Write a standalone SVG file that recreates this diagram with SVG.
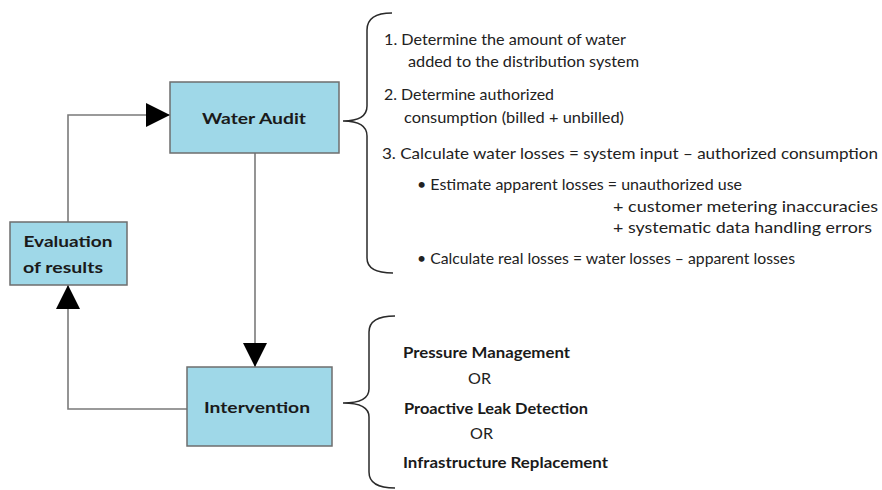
<svg xmlns="http://www.w3.org/2000/svg" width="882" height="490" viewBox="0 0 882 490">
  <style>
    .box { fill: #9fd8e8; stroke: #6e6e6e; stroke-width: 1.5; }
    .title { font-family: Lato, "Open Sans", sans-serif; font-weight: bold; font-size: 16px; fill: #1a1a1a; text-anchor: middle; }
    .conn { fill: none; stroke: #7a7a7a; stroke-width: 1.6; }
    .brace { fill: none; stroke: #2a2a2a; stroke-width: 1.5; }
    .txt { font-family: Lato, "Open Sans", sans-serif; font-size: 15px; fill: #222; }
    .opt { font-family: Lato, "Open Sans", sans-serif; font-size: 15px; font-weight: bold; fill: #1a1a1a; }
  </style>
  <defs>
    <marker id="head" markerUnits="userSpaceOnUse" markerWidth="24" markerHeight="24" viewBox="0 0 22 22" refX="22" refY="11" orient="auto">
      <path d="M0,0 L22,11 L0,22 z" fill="#000"/>
    </marker>
  </defs>

  <rect width="882" height="490" fill="#fff"/>

  <!-- connectors -->
  <g id="connectors">
    <path class="conn" d="M68,222 L68,115 L170,115" marker-end="url(#head)"/>
    <path class="conn" d="M255,153 L255,367" marker-end="url(#head)"/>
    <path class="conn" d="M187,409 L68,409 L68,285" marker-end="url(#head)"/>
  </g>

  <!-- nodes -->
  <g id="water-audit">
    <rect class="box" x="170" y="82" width="169" height="71"/>
    <text class="title" x="254" y="124" textLength="104" lengthAdjust="spacingAndGlyphs">Water Audit</text>
  </g>
  <g id="evaluation">
    <rect class="box" x="10" y="222" width="117" height="63"/>
    <text class="title" x="68" y="247" textLength="89" lengthAdjust="spacingAndGlyphs">Evaluation</text>
    <text class="title" x="63" y="273" textLength="80" lengthAdjust="spacingAndGlyphs">of results</text>
  </g>
  <g id="intervention">
    <rect class="box" x="187" y="367" width="145" height="79"/>
    <text class="title" x="257" y="413" textLength="106" lengthAdjust="spacingAndGlyphs">Intervention</text>
  </g>

  <!-- audit steps -->
  <g id="audit-steps">
    <path class="brace" d="M392,13 Q367,13 367,30 L367,106 Q367,121 343,121 Q367,121 367,136 L367,258 Q367,273 393,273"/>
    <text class="txt" x="384" y="45" textLength="242" lengthAdjust="spacingAndGlyphs">1. Determine the amount of water</text>
    <text class="txt" x="408" y="67" textLength="231" lengthAdjust="spacingAndGlyphs">added to the distribution system</text>
    <text class="txt" x="384" y="100" textLength="170" lengthAdjust="spacingAndGlyphs">2. Determine authorized</text>
    <text class="txt" x="404" y="123" textLength="220" lengthAdjust="spacingAndGlyphs">consumption (billed + unbilled)</text>
    <text class="txt" x="382" y="159" textLength="496" lengthAdjust="spacingAndGlyphs">3. Calculate water losses = system input  –  authorized consumption</text>
    <text class="txt" x="417" y="190" textLength="325" lengthAdjust="spacingAndGlyphs">• Estimate apparent losses = unauthorized use</text>
    <text class="txt" x="613" y="212" textLength="265" lengthAdjust="spacingAndGlyphs">+ customer metering inaccuracies</text>
    <text class="txt" x="613" y="233" textLength="259" lengthAdjust="spacingAndGlyphs">+ systematic data handling errors</text>
    <text class="txt" x="417" y="264" textLength="378" lengthAdjust="spacingAndGlyphs">• Calculate real losses = water losses – apparent losses</text>
  </g>

  <!-- intervention options -->
  <g id="intervention-options">
    <path class="brace" d="M395,316 Q369,316 369,332 L369,389 Q369,403 343,403 Q369,403 369,417 L369,472 Q369,488 395,488"/>
    <text class="opt" x="403" y="358" textLength="167" lengthAdjust="spacingAndGlyphs">Pressure Management</text>
    <text class="txt" x="468" y="384" textLength="23" lengthAdjust="spacingAndGlyphs">OR</text>
    <text class="opt" x="404" y="414" textLength="184" lengthAdjust="spacingAndGlyphs">Proactive Leak Detection</text>
    <text class="txt" x="470" y="439" textLength="23" lengthAdjust="spacingAndGlyphs">OR</text>
    <text class="opt" x="403" y="468" textLength="205" lengthAdjust="spacingAndGlyphs">Infrastructure Replacement</text>
  </g>
</svg>
